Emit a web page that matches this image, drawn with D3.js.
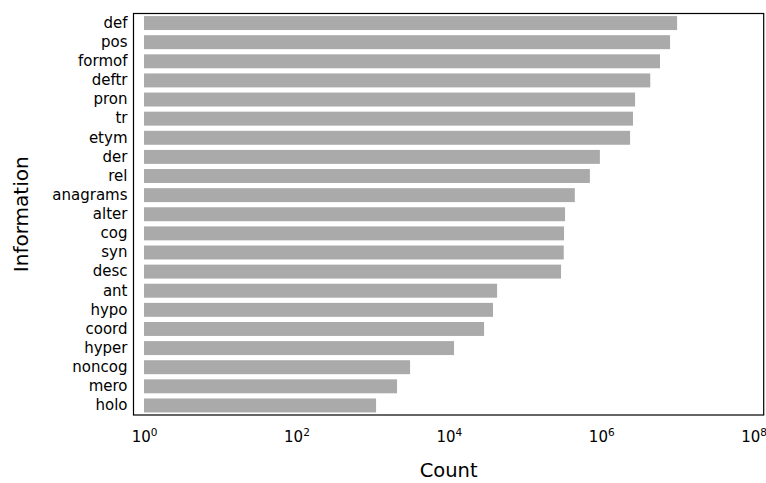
<!DOCTYPE html>
<html>
<head>
<meta charset="utf-8">
<script src="https://cdn.jsdelivr.net/npm/d3@7"></script>
<style>
  html, body { margin: 0; padding: 0; background: #fff; overflow: hidden; }
  svg { display: block; font-family: "DejaVu Sans", sans-serif; }
</style>
</head>
<body>
<svg id="chart" width="766" height="483"></svg>
<script>
// Counts of each kind of information, largest first
const categories = ["def", "pos", "formof", "deftr", "pron", "tr", "etym", "der", "rel",
  "anagrams", "alter", "cog", "syn", "desc", "ant", "hypo", "coord", "hyper",
  "noncog", "mero", "holo"];
const counts = [9.9e6, 8.0e6, 5.9e6, 4.4e6, 2.78e6, 2.61e6, 2.39e6, 9.6e5, 7.1e5,
  4.5e5, 3.35e5, 3.25e5, 3.22e5, 2.97e5, 4.3e4, 3.8e4, 2.9e4, 1.17e4,
  3.1e3, 2.09e3, 1.11e3];
const tickExponents = [0, 2, 4, 6, 8];

const svg = d3.select("#chart");
const plot = { left: 133.5, right: 763.7, top: 13.5, bottom: 415 };

// Log axis: 10^0 .. 10^8 with a little margin on each side
const x = d3.scaleLog()
  .domain([Math.pow(10, -0.138), Math.pow(10, 8.132)])
  .range([plot.left, plot.right]);

const y = d3.scaleBand()
  .domain(categories)
  .range([plot.top, plot.bottom])
  .paddingInner(0.27)
  .paddingOuter(0.135);

// Bars
svg.append("g")
  .selectAll("rect")
  .data(categories)
  .join("rect")
  .attr("x", x(1))
  .attr("y", d => y(d))
  .attr("width", (d, i) => x(counts[i]) - x(1))
  .attr("height", y.bandwidth())
  .attr("fill", "#aaaaaa");

// Category labels (no tick marks)
const yAxis = svg.append("g")
  .attr("transform", `translate(${plot.left},0)`)
  .call(d3.axisLeft(y).tickSize(0).tickPadding(6));
yAxis.select(".domain").remove();
yAxis.selectAll("text")
  .attr("font-size", 15)
  .attr("font-family", "DejaVu Sans, sans-serif")
  .attr("fill", "#000");

// Power-of-ten labels along the bottom
const xAxis = svg.append("g")
  .attr("transform", `translate(0,${plot.bottom})`)
  .call(d3.axisBottom(x)
    .tickValues(tickExponents.map(e => Math.pow(10, e)))
    .tickSize(0)
    .tickFormat(() => ""));
xAxis.select(".domain").remove();
xAxis.selectAll(".tick text").remove();
xAxis.selectAll(".tick").each(function(d, i) {
  const t = d3.select(this).append("text")
    .attr("y", 27)
    .attr("text-anchor", "middle")
    .attr("fill", "#000")
    .attr("font-size", 15)
    .attr("font-family", "DejaVu Sans, sans-serif");
  t.append("tspan").text("10");
  t.append("tspan")
    .attr("dy", -6)
    .attr("font-size", 10.5)
    .text(tickExponents[i]);
});

// Frame
svg.append("rect")
  .attr("x", plot.left)
  .attr("y", plot.top)
  .attr("width", plot.right - plot.left)
  .attr("height", plot.bottom - plot.top)
  .attr("fill", "none")
  .attr("stroke", "#000")
  .attr("stroke-width", 1.2);

// Axis titles
svg.append("text")
  .attr("x", (plot.left + plot.right) / 2)
  .attr("y", 477)
  .attr("text-anchor", "middle")
  .attr("font-size", 19.5)
  .attr("fill", "#000")
  .text("Count");

svg.append("text")
  .attr("transform", `translate(28,${(plot.top + plot.bottom) / 2}) rotate(-90)`)
  .attr("text-anchor", "middle")
  .attr("font-size", 20)
  .attr("fill", "#000")
  .text("Information");
</script>
</body>
</html>
